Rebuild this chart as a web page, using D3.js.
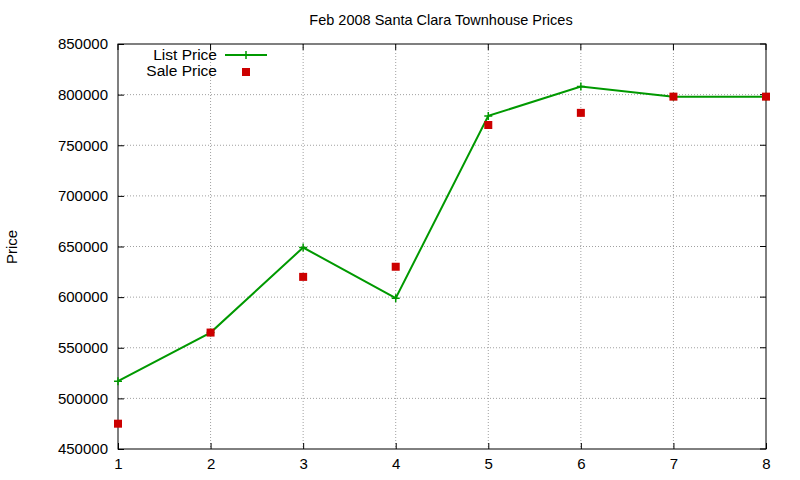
<!DOCTYPE html>
<html><head><meta charset="utf-8">
<script src="https://cdn.jsdelivr.net/npm/d3@7"></script>
<style>body{margin:0;background:#fff}text{font-family:"Liberation Sans",Arial,sans-serif}</style>
</head><body><svg id="c" width="800" height="480"></svg>
<script>
const months = [1, 2, 3, 4, 5, 6, 7, 8];
const listPrice = [517000, 565000, 649000, 599000, 779000, 808000, 798000, 798000];
const salePrice = [475000, 565000, 620000, 630000, 770000, 782000, 798000, 798000];
const yTicks = [450000, 500000, 550000, 600000, 650000, 700000, 750000, 800000, 850000];

const margin = { top: 44, right: 34, bottom: 31, left: 118 },
  width = 800, height = 480;
const svg = d3.select("#c");
const x = d3.scaleLinear().domain([1, 8]).range([margin.left, width - margin.right]);
const y = d3.scaleLinear().domain([450000, 850000]).range([height - margin.bottom, margin.top]);

// grid
const grid = svg.append("g").attr("stroke", "#a0a0a0").attr("stroke-dasharray", "1,2").attr("stroke-width", 1);
grid.selectAll("line.v").data(months.slice(1, -1)).join("line")
  .attr("x1", d => x(d)).attr("x2", d => x(d)).attr("y1", y(850000)).attr("y2", y(450000));
grid.selectAll("line.h").data(yTicks.slice(1, -1)).join("line")
  .attr("y1", d => y(d)).attr("y2", d => y(d)).attr("x1", x(1)).attr("x2", x(8));

// frame
svg.append("rect").attr("x", x(1)).attr("y", y(850000))
  .attr("width", x(8) - x(1)).attr("height", y(450000) - y(850000))
  .attr("fill", "none").attr("stroke", "#000");

// axes
const xa = svg.append("g").attr("transform", `translate(0,${y(450000)})`)
  .call(d3.axisBottom(x).tickValues(months).tickSize(-6).tickPadding(9).tickFormat(d3.format("d")));
const ya = svg.append("g").attr("transform", `translate(${x(1)},0)`)
  .call(d3.axisLeft(y).tickValues(yTicks).tickSize(-6).tickPadding(10).tickFormat(d3.format("d")));
[xa, ya].forEach(a => {
  a.select(".domain").remove();
  a.selectAll("text").attr("font-size", 15).attr("fill", "#000");
});
// mirrored ticks
svg.append("g").selectAll("line").data(months).join("line")
  .attr("x1", d => x(d)).attr("x2", d => x(d)).attr("y1", y(850000)).attr("y2", y(850000) + 6).attr("stroke", "#000");
svg.append("g").selectAll("line").data(yTicks).join("line")
  .attr("y1", d => y(d)).attr("y2", d => y(d)).attr("x1", x(8)).attr("x2", x(8) - 6).attr("stroke", "#000");

svg.append("text").attr("x", 441).attr("y", 25).attr("text-anchor", "middle").attr("font-size", 14.5).text("Feb 2008 Santa Clara Townhouse Prices");
svg.append("text").attr("transform", "translate(17,247) rotate(-90)").attr("text-anchor", "middle").attr("font-size", 15).text("Price");

// list price line
const green = "#009900", red = "#cc0000";
svg.append("path").datum(months.map((m, i) => [m, listPrice[i]]))
  .attr("fill", "none").attr("stroke", green).attr("stroke-width", 2)
  .attr("d", d3.line().x(d => x(d[0])).y(d => y(d[1])));
const plus = (g, cx, cy) => g.append("path").attr("d", `M${cx - 4},${cy}H${cx + 4}M${cx},${cy - 4}V${cy + 4}`)
  .attr("stroke", green).attr("stroke-width", 1.5);
const pg = svg.append("g");
months.forEach((m, i) => plus(pg, x(m), y(listPrice[i])));

// sale price points
svg.append("g").selectAll("rect").data(months).join("rect")
  .attr("x", (d, i) => x(d) - 4).attr("y", (d, i) => y(salePrice[i]) - 4)
  .attr("width", 8).attr("height", 8).attr("fill", red);

// legend
svg.append("text").attr("x", 217).attr("y", 60).attr("text-anchor", "end").attr("font-size", 15.5).text("List Price");
svg.append("line").attr("x1", 225).attr("x2", 267).attr("y1", 55).attr("y2", 55).attr("stroke", green).attr("stroke-width", 2);
plus(svg, 246, 55);
svg.append("text").attr("x", 217).attr("y", 76).attr("text-anchor", "end").attr("font-size", 15.5).text("Sale Price");
svg.append("rect").attr("x", 242).attr("y", 68).attr("width", 8).attr("height", 8).attr("fill", red);
</script></body></html>
